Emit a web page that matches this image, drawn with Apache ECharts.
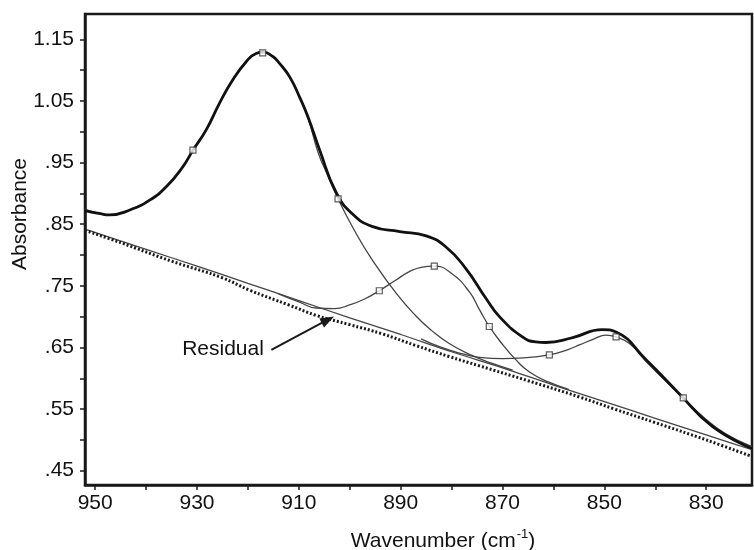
<!DOCTYPE html>
<html>
<head>
<meta charset="utf-8">
<script src="https://cdn.jsdelivr.net/npm/echarts@6/dist/echarts.min.js"></script>
<style>
html,body{margin:0;padding:0;background:#fff;}
#chart{width:754px;height:550px;}
</style>
</head>
<body>
<div id="chart"></div>
<script>
// ---- data ----
const fitWn  = [952, 949, 947.2, 943.2, 939.3, 936, 932.8, 930.8, 928.2, 925.6, 923, 920.3, 918.4, 917, 915.1, 913.8, 911.8, 909.9, 908.2, 905.9, 902.7, 899.4, 895.5, 890.2, 885, 881.1, 877.2, 873.2, 870.6, 866.1, 863.5, 861.5, 856.2, 850.4, 847.7, 841.8, 835.3, 828.8, 821];
const fitAbs = [0.872, 0.867, 0.865, 0.873, 0.889, 0.911, 0.943, 0.970, 1.003, 1.046, 1.084, 1.114, 1.127, 1.129, 1.122, 1.111, 1.089, 1.057, 1.024, 0.970, 0.902, 0.866, 0.846, 0.838, 0.831, 0.813, 0.778, 0.729, 0.700, 0.667, 0.659, 0.658, 0.666, 0.679, 0.675, 0.630, 0.575, 0.522, 0.486];

const band1Wn  = [952, 949, 947.2, 943.2, 939.3, 936, 932.8, 930.8, 928.2, 925.6, 923, 920.3, 918.4, 917, 915.1, 913.8, 911.8, 909.9, 908.2, 906.2, 904.6, 902.3, 898.7, 895.5, 890.9, 887, 884, 880.4, 876, 872, 868];
const band1Abs = [0.874, 0.867, 0.865, 0.873, 0.889, 0.911, 0.943, 0.970, 1.003, 1.046, 1.084, 1.114, 1.127, 1.129, 1.122, 1.111, 1.089, 1.057, 1.022, 0.966, 0.934, 0.891, 0.834, 0.791, 0.738, 0.701, 0.678, 0.656, 0.637, 0.624, 0.613];

const band2Wn  = [914, 910, 906.6, 903, 900, 897, 894.2, 891, 888.3, 886, 883.4, 880, 876.5, 874.5, 872.6, 870, 867.5, 864.7, 861, 857];
const band2Abs = [0.737, 0.724, 0.714, 0.713, 0.719, 0.729, 0.742, 0.759, 0.773, 0.780, 0.782, 0.770, 0.740, 0.711, 0.684, 0.655, 0.631, 0.610, 0.594, 0.582];

const band3Wn  = [886, 882, 878, 874.5, 870, 866, 860.8, 857, 854.9, 852, 849.7, 847.7, 845, 841.8, 838, 834.5, 830, 826, 821];
const band3Abs = [0.664, 0.650, 0.640, 0.634, 0.632, 0.633, 0.638, 0.647, 0.654, 0.664, 0.670, 0.667, 0.656, 0.627, 0.596, 0.568, 0.533, 0.509, 0.489];

const baseWn  = [952, 940, 930, 920, 910, 900, 890, 880, 870, 860, 850, 840, 830, 821];
const baseAbs = [0.842, 0.809, 0.782, 0.754, 0.726, 0.698, 0.671, 0.643, 0.617, 0.589, 0.562, 0.535, 0.508, 0.484];

const residWn  = [952, 945, 935, 925, 919.7, 912, 906.6, 900, 893.6, 887, 880.4, 874.5, 865, 855, 848, 840, 830, 821];
const residAbs = [0.840, 0.820, 0.790, 0.763, 0.743, 0.719, 0.702, 0.687, 0.672, 0.653, 0.635, 0.620, 0.596, 0.570, 0.550, 0.528, 0.500, 0.473];

const markerWn  = [930.8, 917.1, 902.3, 894.2, 883.4, 872.6, 860.8, 847.7, 834.5];
const markerAbs = [0.970, 1.128, 0.891, 0.742, 0.782, 0.684, 0.638, 0.667, 0.568];

const xTickValues  = [830, 840, 850, 860, 870, 880, 890, 900, 910, 920, 930, 940, 950];
const xLabelValues = [830, 850, 870, 890, 910, 930, 950];
const yTickValues  = [0.45, 0.50, 0.55, 0.60, 0.65, 0.70, 0.75, 0.80, 0.85, 0.90, 0.95, 1.00, 1.05, 1.10, 1.15];
const yLabelValues = [0.45, 0.55, 0.65, 0.75, 0.85, 0.95, 1.05, 1.15];

const arrowFrom = [915.4, 0.646];
const arrowTo   = [904.3, 0.695];

// ---- helpers ----
const zip = (a, b) => a.map((v, i) => [v, b[i]]);
const FONT = "'Liberation Sans', Arial, Helvetica, sans-serif";
const TXT = '#111';

const chart = echarts.init(document.getElementById('chart'), null, {renderer: 'canvas'});

const thin = (name, wn, ab) => ({
  name, type: 'line', data: zip(wn, ab), smooth: 0.5, symbol: 'none',
  lineStyle: {color: '#444', width: 1.3}, z: 3, animation: false
});

chart.setOption({
  animation: false,
  backgroundColor: '#fff',
  grid: {left: 85, right: 2, top: 14, bottom: 65, show: true, borderColor: '#1a1a1a', borderWidth: 2.5, backgroundColor: 'transparent'},
  xAxis: {
    type: 'value', inverse: true, min: 821, max: 952,
    axisLine: {show: true, lineStyle: {color: '#1a1a1a', width: 2.5}},
    axisTick: {show: true, length: 5, inside: false, customValues: xTickValues, lineStyle: {color: '#1a1a1a', width: 1.5}},
    axisLabel: {customValues: xLabelValues, margin: 8, color: TXT, fontFamily: FONT, fontSize: 21},
    splitLine: {show: false}
  },
  yAxis: {
    type: 'value', min: 0.4268, max: 1.191,
    axisLine: {show: true, lineStyle: {color: '#1a1a1a', width: 2.5}},
    axisTick: {show: true, length: 5, inside: false, customValues: yTickValues, lineStyle: {color: '#1a1a1a', width: 1.5}},
    axisLabel: {customValues: yLabelValues, margin: 11, color: TXT, fontFamily: FONT, fontSize: 21,
      formatter: v => v.toFixed(2).replace(/^0/, '')},
    splitLine: {show: false}
  },
  graphic: [
    {type: 'text', x: 20, y: 214, rotation: Math.PI / 2,
      style: {text: 'Absorbance', fill: TXT, font: "21px 'Liberation Sans', Arial, sans-serif", align: 'center', verticalAlign: 'middle'}},
    {type: 'text', x: 443, y: 540,
      style: {text: '{a|Wavenumber (cm}{s|-1}{a|)}', align: 'center', verticalAlign: 'middle',
        rich: {
          a: {fontSize: 21, fontFamily: FONT, fill: TXT, color: TXT, lineHeight: 24, verticalAlign: 'bottom'},
          s: {fontSize: 13, fontFamily: FONT, fill: TXT, color: TXT, lineHeight: 24, verticalAlign: 'top', padding: [0, 0, 0, 1]}
        }}},
    {type: 'text', x: 223, y: 349,
      style: {text: 'Residual', fill: TXT, font: "21px 'Liberation Sans', Arial, sans-serif", align: 'center', verticalAlign: 'middle'}}
  ],
  series: [
    {name: 'baseline', type: 'line', data: zip(baseWn, baseAbs), smooth: 0.3, symbol: 'none',
      lineStyle: {color: '#444', width: 1.3}, z: 2},
    {name: 'residual', type: 'line', data: zip(residWn, residAbs), smooth: 0.4, symbol: 'none',
      lineStyle: {color: '#1a1a1a', width: 3, type: [2, 2], cap: 'butt'}, z: 2,
      markLine: {silent: true, symbol: ['none', 'triangle'], symbolSize: [10, 14],
        lineStyle: {color: '#1a1a1a', width: 2, type: 'solid'}, label: {show: false},
        data: [[{coord: arrowFrom}, {coord: arrowTo}]]}},
    thin('band1', band1Wn, band1Abs),
    thin('band2', band2Wn, band2Abs),
    thin('band3', band3Wn, band3Abs),
    {name: 'fit', type: 'line', data: zip(fitWn, fitAbs), smooth: 0.5, symbol: 'none',
      lineStyle: {color: '#111', width: 2.8}, z: 4},
    {name: 'markers', type: 'scatter', data: zip(markerWn, markerAbs), symbol: 'rect', symbolSize: 6,
      itemStyle: {color: '#fff', borderColor: '#333', borderWidth: 1.2}, z: 5}
  ]
});
</script>
</body>
</html>
